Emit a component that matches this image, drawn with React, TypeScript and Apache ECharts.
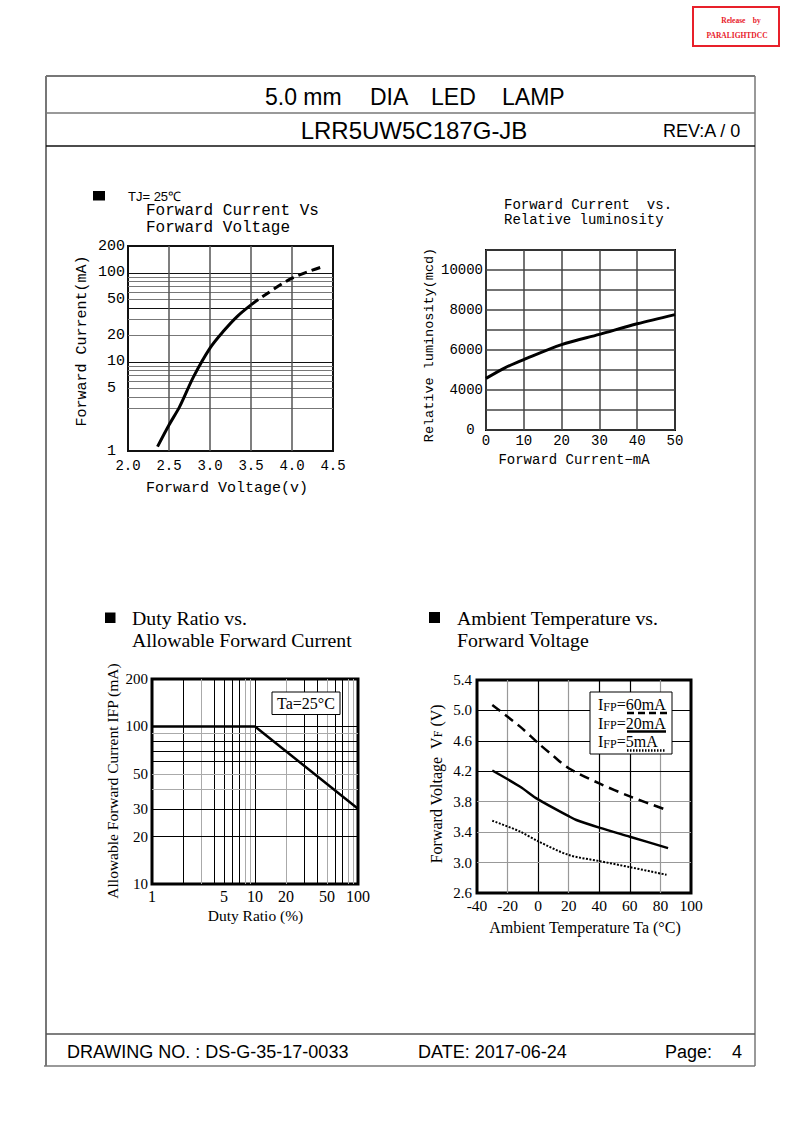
import React, { useEffect, useRef } from "react";
import * as echarts from "echarts";

// ---------------- data ----------------
// Chart 1: Forward Current vs Forward Voltage (TJ = 25 C)
const ivVoltageSolid = [2.36, 2.5, 2.63, 2.8, 3.0, 3.16, 3.33, 3.5];
const ivCurrentSolid = [1.12, 1.96, 3.15, 6.84, 14.3, 21.9, 32.3, 43.7];
const ivVoltageDashed = [3.5, 3.63, 4.0, 4.38];
const ivCurrentDashed = [43.7, 53.3, 87.2, 117.7];
const ivYLabels = [1, 5, 10, 20, 50, 100, 200];
const ivYGrid = [3, 4, 5, 6, 7, 8, 9, 10, 20, 30, 40, 50, 60, 70, 80, 90, 100];
const ivYGridDark = [10, 40, 100];
const ivXGrid = [2.5, 3.0, 3.5, 4.0];

// Chart 2: Forward Current vs Relative luminosity
const lumCurrent = [0, 5, 10, 20, 30, 40, 50];
const lumValue = [4580, 5110, 5520, 6270, 6780, 7310, 7770];

// Chart 3: Duty Ratio vs Allowable Forward Current
const dutyRatio = [1, 10, 100];
const dutyCurrent = [100, 100, 30];
const dutyXLabels = [1, 5, 10, 20, 50, 100];
const dutyYLabels = [10, 20, 30, 50, 100, 200];
const dutyXGrid = [2, 3, 4, 5, 6, 7, 8, 9, 10, 20, 30, 40, 50, 60, 70, 80, 90];
const dutyXGridGray = [3, 8, 9, 20, 50, 80, 90];
const dutyYGrid = [20, 30, 40, 50, 60, 70, 80, 90, 100];
const dutyYGridGray = [40, 50, 90];

// Chart 4: Ambient Temperature vs Forward Voltage
const ta60Temp = [-30, -12, 0, 10, 20, 40, 60, 83];
const ta60Volt = [5.07, 4.79, 4.57, 4.4, 4.24, 4.04, 3.87, 3.7];
const ta20Temp = [-30, -12, 0, 20, 25, 40, 60, 85];
const ta20Volt = [4.21, 4.0, 3.83, 3.61, 3.56, 3.46, 3.34, 3.19];
const ta5Temp = [-30, -12, 0, 20, 40, 60, 84];
const ta5Volt = [3.55, 3.41, 3.28, 3.1, 3.02, 2.94, 2.84];
const taXGrid = [-20, 0, 20, 40, 60, 80];
const taXGridGray = [-20, 20, 80];
const taYGrid = [3.0, 3.4, 3.8, 4.2, 4.6, 5.0];
const taYGridGray = [3.0, 3.4, 3.8];

// ---------------- styling helpers ----------------
const SANS = '"Liberation Sans", Arial, sans-serif';
const MONO = '"Liberation Mono", "Courier New", monospace';
const SERIF = '"Liberation Serif", "Times New Roman", serif';

const zip = (xs: number[], ys: number[]) => xs.map((x, i) => [x, ys[i]]);

const hGrid = (vals: number[], x0: number, x1: number, colorOf: (v: number) => string, width: number) =>
  vals.map((v) => [
    { coord: [x0, v], lineStyle: { color: colorOf(v), width, type: "solid" } },
    { coord: [x1, v] },
  ]);
const vGrid = (vals: number[], y0: number, y1: number, colorOf: (v: number) => string, width: number) =>
  vals.map((v) => [
    { coord: [v, y0], lineStyle: { color: colorOf(v), width, type: "solid" } },
    { coord: [v, y1] },
  ]);
const labelStyle = (fmt: string, family: string, size: number, dist: number) => ({
  show: true,
  position: "start",
  formatter: fmt,
  color: "#000",
  fontFamily: family,
  fontSize: size,
  distance: dist,
});
const hLabels = (vals: number[], x0: number, x1: number, fmt: (v: number) => string, family: string, size: number, dist: number) =>
  vals.map((v) => [
    { coord: [x0, v], lineStyle: { color: "rgba(0,0,0,0)", width: 0 }, label: labelStyle(fmt(v), family, size, dist) },
    { coord: [x1, v] },
  ]);
const vLabels = (vals: number[], y0: number, y1: number, fmt: (v: number) => string, family: string, size: number, dist: number) =>
  vals.map((v) => [
    { coord: [v, y0], lineStyle: { color: "rgba(0,0,0,0)", width: 0 }, label: labelStyle(fmt(v), family, size, dist) },
    { coord: [v, y1] },
  ]);

const markLineBase = {
  silent: true,
  z: 1,
  symbol: ["none", "none"],
  animation: false,
  label: { show: false },
  emphasis: { disabled: true },
};

const hiddenAxis = {
  axisLine: { show: false },
  axisTick: { show: false },
  splitLine: { show: false },
};

const txt = (text: string, x: number, y: number, font: string, align = "left", extra: any = {}) => ({
  type: "text",
  x,
  y,
  z: 100,
  ...extra,
  style: { text, font, fill: "#000", textAlign: align, textVerticalAlign: "middle" },
});
const line = (x1: number, y1: number, x2: number, y2: number, stroke: string, lineWidth: number, lineDash?: number[]) => ({
  type: "line",
  z: 100,
  shape: { x1, y1, x2, y2 },
  style: { stroke, lineWidth, lineDash },
});
const rect = (x: number, y: number, width: number, height: number, style: any) => ({
  type: "rect",
  z: 100,
  shape: { x, y, width, height },
  style,
});

function buildOption(): any {
  const legendRich = {
    i: { fontSize: 16, fontFamily: SERIF, fill: "#000", verticalAlign: "bottom" },
    f: { fontSize: 12, fontFamily: SERIF, fill: "#000", verticalAlign: "bottom" },
    n: { fontSize: 16, fontFamily: SERIF, fill: "#000", verticalAlign: "bottom" },
  };
  const legendText = (label: string, y: number) => ({
    type: "text",
    x: 598,
    y,
    z: 101,
    style: {
      text: `{i|I}{f|FP}{n|=${label}}`,
      rich: legendRich,
      font: `16px ${SERIF}`,
      fill: "#000",
      textAlign: "left",
      textVerticalAlign: "middle",
    },
  });

  const graphicElements: any[] = [
    // release stamp
    rect(693, 7, 86, 39, { fill: "#fff", stroke: "#e8202a", lineWidth: 2 }),
    { type: "text", x: 741, y: 20, z: 100, style: { text: "Release    by", font: `bold 7.5px ${SERIF}`, fill: "#e8202a", textAlign: "center", textVerticalAlign: "middle" } },
    { type: "text", x: 737, y: 35, z: 100, style: { text: "PARALIGHTDCC", font: `bold 7.5px ${SERIF}`, fill: "#e8202a", textAlign: "center", textVerticalAlign: "middle" } },
    // frame
    line(46, 76, 755, 76, "#777", 2),
    line(46, 76, 46, 1066, "#777", 2),
    line(755, 76, 755, 1066, "#777", 1.5),
    line(46, 113, 755, 113, "#777", 1.5),
    line(46, 146, 755, 146, "#111", 1.5),
    line(46, 1034, 755, 1034, "#555", 1.5),
    line(44, 1066, 755, 1066, "#777", 1.5),
    // header
    txt("5.0 mm", 265, 97, `23px ${SANS}`),
    txt("DIA", 370, 97, `23px ${SANS}`),
    txt("LED", 431, 97, `23px ${SANS}`),
    txt("LAMP", 502, 97, `23px ${SANS}`),
    txt("LRR5UW5C187G-JB", 414, 130, `24px ${SANS}`, "center"),
    txt("REV:A / 0", 663, 131, `18px ${SANS}`),
    // footer
    txt("DRAWING NO. : DS-G-35-17-0033", 67, 1052, `18px ${SANS}`),
    txt("DATE: 2017-06-24", 418, 1052, `18px ${SANS}`),
    txt("Page:", 665, 1052, `18px ${SANS}`),
    txt("4", 742, 1052, `18px ${SANS}`, "right"),

    // chart 1 titles
    rect(93, 191, 12, 9.5, { fill: "#000" }),
    txt("TJ= 25\u2103", 128, 196, `13px ${SANS}`),
    txt("Forward Current Vs", 146, 211, `16px ${MONO}`),
    txt("Forward Voltage", 146, 228, `16px ${MONO}`),
    txt("Forward Current(mA)", 82.5, 341, `15px ${MONO}`, "center", { rotation: Math.PI / 2 }),
    txt("Forward Voltage(v)", 227, 488, `15px ${MONO}`, "center"),

    // chart 2 titles
    txt("Forward Current  vs.", 504, 205, `14px ${MONO}`),
    txt("Relative luminosity", 504, 220, `14px ${MONO}`),
    txt("Relative luminosity(mcd)", 429, 345, `13.5px ${MONO}`, "center", { rotation: Math.PI / 2 }),
    txt("Forward Current\u2212mA", 574, 460, `14px ${MONO}`, "center"),

    // chart 3 titles
    rect(105, 612.5, 10.5, 10.5, { fill: "#000" }),
    txt("Duty Ratio vs.", 132, 618, `19.8px ${SERIF}`),
    txt("Allowable Forward Current", 132, 640, `19.8px ${SERIF}`),
    txt("Allowable Forward Current IFP (mA)", 112.5, 781, `15.5px ${SERIF}`, "center", { rotation: Math.PI / 2 }),
    txt("Duty Ratio (%)", 255.5, 915, `15.5px ${SERIF}`, "center"),
    rect(272, 692, 68, 22.5, { fill: "#fff", stroke: "#000", lineWidth: 1 }),
    { ...txt("Ta=25\u00b0C", 306, 703.5, `16px ${SERIF}`, "center"), z: 101 },

    // chart 4 titles
    rect(429, 612, 11, 11, { fill: "#000" }),
    txt("Ambient Temperature vs.", 457, 618, `19.8px ${SERIF}`),
    txt("Forward Voltage", 457, 640, `19.8px ${SERIF}`),
    {
      type: "text",
      x: 436,
      y: 784,
      z: 100,
      rotation: Math.PI / 2,
      style: {
        text: "{n|Forward Voltage  V}{s|F}{n| (V)}",
        rich: {
          n: { fontSize: 16, fontFamily: SERIF, fill: "#000", verticalAlign: "bottom" },
          s: { fontSize: 12, fontFamily: SERIF, fill: "#000", verticalAlign: "bottom" },
        },
        font: `16px ${SERIF}`,
        fill: "#000",
        textAlign: "center",
        textVerticalAlign: "middle",
      },
    },
    txt("Ambient Temperature Ta (\u00b0C)", 585, 927, `16px ${SERIF}`, "center"),
    rect(590, 692, 82, 62, { fill: "#fff", stroke: "#000", lineWidth: 1 }),
    legendText("60mA", 704.5),
    legendText("20mA", 723),
    legendText("5mA", 741.5),
    { ...line(627, 713, 667, 713, "#000", 2.5, [7, 4]), z: 101 },
    { ...line(627, 731.5, 666, 731.5, "#000", 2.5), z: 101 },
    { ...line(627, 750.5, 666, 750.5, "#000", 2.5, [1.5, 1.5]), z: 101 },
  ];

  return {
    animation: false,
    backgroundColor: "#fff",
    textStyle: { fontFamily: SANS },
    grid: [
      { left: 128, top: 246, width: 205, height: 205, show: true, borderColor: "#111", borderWidth: 2, backgroundColor: "transparent", outerBoundsMode: "none" },
      { left: 486, top: 250, width: 189, height: 180, show: true, borderColor: "#000", borderWidth: 2, backgroundColor: "transparent", outerBoundsMode: "none" },
      { left: 152, top: 679, width: 206, height: 205, show: true, borderColor: "#000", borderWidth: 3, backgroundColor: "transparent", outerBoundsMode: "none" },
      { left: 477, top: 680, width: 214, height: 213, show: true, borderColor: "#000", borderWidth: 3, backgroundColor: "transparent", outerBoundsMode: "none" },
    ],
    xAxis: [
      {
        gridIndex: 0, type: "value", min: 2, max: 4.5, interval: 0.5, ...hiddenAxis,
        axisLabel: { formatter: (v: number) => v.toFixed(1), fontFamily: MONO, fontSize: 14, color: "#000", margin: 8 },
      },
      {
        gridIndex: 1, type: "value", min: 0, max: 50, interval: 10,
        axisLine: { show: false }, axisTick: { show: false },
        splitLine: { show: true, lineStyle: { color: "#444", width: 1.5 } },
        axisLabel: { fontFamily: MONO, fontSize: 14, color: "#000", margin: 4 },
      },
      { gridIndex: 2, type: "log", logBase: 10, min: 1, max: 100, ...hiddenAxis, axisLabel: { show: false } },
      {
        gridIndex: 3, type: "value", min: -40, max: 100, interval: 20, ...hiddenAxis,
        axisLabel: { fontFamily: SERIF, fontSize: 15.5, color: "#000", margin: 4 },
      },
    ],
    yAxis: [
      { gridIndex: 0, type: "log", logBase: 10, min: 1, max: 200, ...hiddenAxis, axisLabel: { show: false } },
      {
        gridIndex: 1, type: "value", min: 2000, max: 11000, interval: 1000,
        axisLine: { show: false }, axisTick: { show: false },
        splitLine: { show: true, lineStyle: { color: "#444", width: 1.5 } },
        axisLabel: {
          formatter: (v: number) => (v === 2000 ? "0\u00a0" : v % 2000 === 0 ? String(v) : ""),
          fontFamily: MONO, fontSize: 14, color: "#000", margin: 3,
        },
      },
      { gridIndex: 2, type: "log", logBase: 10, min: 10, max: 200, ...hiddenAxis, axisLabel: { show: false } },
      {
        gridIndex: 3, type: "value", min: 2.6, max: 5.4, interval: 0.4, ...hiddenAxis,
        axisLabel: { formatter: (v: number) => v.toFixed(1), fontFamily: SERIF, fontSize: 15, color: "#000", margin: 5 },
      },
    ],
    series: [
      // chart 1
      {
        type: "line", xAxisIndex: 0, yAxisIndex: 0, z: 3,
        data: zip(ivVoltageSolid, ivCurrentSolid),
        smooth: 0.3, symbol: "none",
        lineStyle: { color: "#000", width: 3 },
        markLine: {
          ...markLineBase,
          data: [
            ...hGrid(ivYGrid, 2, 4.5, (v) => (ivYGridDark.includes(v) ? "#111" : "#777"), 1.2),
            ...vGrid(ivXGrid, 1, 200, () => "#555", 1.5),
            ...hLabels(ivYLabels, 2, 4.5, (v) => (v < 10 ? `${v}\u00a0` : String(v)), MONO, 15, 3),
          ],
        },
      },
      {
        type: "line", xAxisIndex: 0, yAxisIndex: 0, z: 3,
        data: zip(ivVoltageDashed, ivCurrentDashed),
        smooth: 0.3, symbol: "none",
        lineStyle: { color: "#000", width: 3, type: [9, 5] },
      },
      // chart 2
      {
        type: "line", xAxisIndex: 1, yAxisIndex: 1, z: 3,
        data: zip(lumCurrent, lumValue),
        smooth: 0.3, symbol: "none",
        lineStyle: { color: "#000", width: 3 },
      },
      // chart 3
      {
        type: "line", xAxisIndex: 2, yAxisIndex: 2, z: 3,
        data: zip(dutyRatio, dutyCurrent),
        symbol: "none",
        lineStyle: { color: "#000", width: 2.5 },
        markLine: {
          ...markLineBase,
          data: [
            ...vGrid(dutyXGrid, 10, 200, (v) => (dutyXGridGray.includes(v) ? "#aaa" : "#000"), 1),
            ...hGrid(dutyYGrid, 1, 100, (v) => (dutyYGridGray.includes(v) ? "#aaa" : "#000"), 1),
            ...vLabels(dutyXLabels, 10, 200, (v) => String(v), SERIF, 16, 4),
            ...hLabels(dutyYLabels, 1, 100, (v) => String(v), SERIF, 15, 4),
          ],
        },
      },
      // chart 4
      {
        type: "line", xAxisIndex: 3, yAxisIndex: 3, z: 3,
        data: zip(ta60Temp, ta60Volt),
        smooth: 0.3, symbol: "none",
        lineStyle: { color: "#000", width: 2.5, type: [10, 6] },
      },
      {
        type: "line", xAxisIndex: 3, yAxisIndex: 3, z: 3,
        data: zip(ta20Temp, ta20Volt),
        smooth: 0.3, symbol: "none",
        lineStyle: { color: "#000", width: 2.5 },
        markLine: {
          ...markLineBase,
          data: [
            ...vGrid(taXGrid, 2.6, 5.4, (v) => (taXGridGray.includes(v) ? "#999" : "#000"), 1.2),
            ...hGrid(taYGrid, -40, 100, (v) => (taYGridGray.includes(v) ? "#999" : "#000"), 1.2),
          ],
        },
      },
      {
        type: "line", xAxisIndex: 3, yAxisIndex: 3, z: 3,
        data: zip(ta5Temp, ta5Volt),
        smooth: 0.3, symbol: "none",
        lineStyle: { color: "#000", width: 2, type: [2, 1.5] },
      },
    ],
    graphic: { elements: graphicElements },
  };
}

export default function App() {
  const ref = useRef<HTMLDivElement>(null);
  useEffect(() => {
    if (!ref.current) return;
    const chart = echarts.init(ref.current, undefined, { renderer: "svg", width: 793, height: 1123 });
    chart.setOption(buildOption());
    return () => chart.dispose();
  }, []);
  return (
    <div
      ref={ref}
      style={{ position: "absolute", left: 0, top: 0, width: 793, height: 1123, background: "#fff" }}
    />
  );
}
